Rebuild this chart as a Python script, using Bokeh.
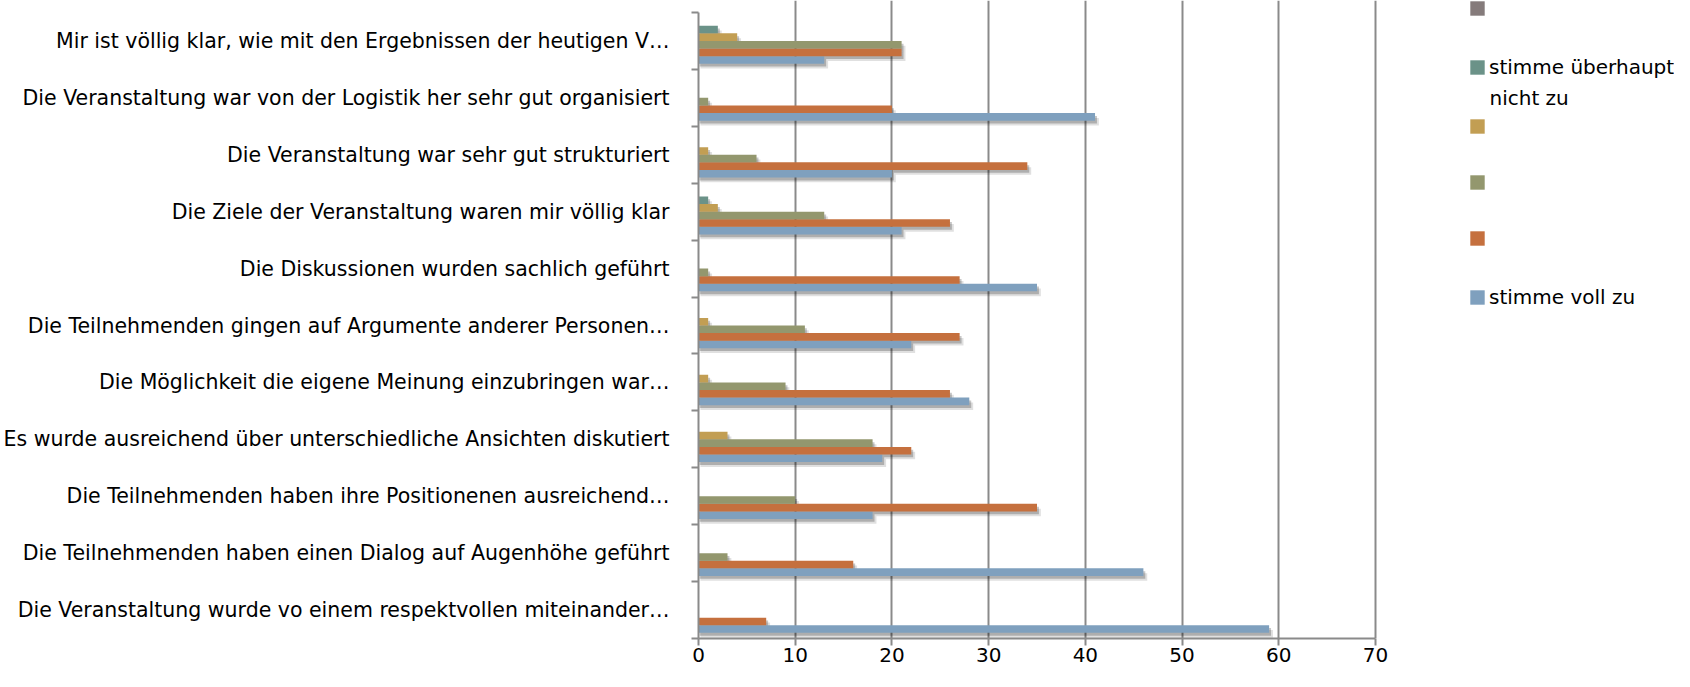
from bokeh.plotting import figure
from bokeh.models import Range1d, FixedTicker, Legend, LegendItem, ColumnDataSource, Label
from bokeh.embed import file_html
from bokeh.resources import INLINE

# ---- data (top to bottom as shown) ----
categories = [
    "Mir ist völlig klar, wie mit den Ergebnissen der heutigen V…",
    "Die Veranstaltung war von der Logistik her sehr gut organisiert",
    "Die Veranstaltung war sehr gut strukturiert",
    "Die Ziele der Veranstaltung waren mir völlig klar",
    "Die Diskussionen wurden sachlich geführt",
    "Die Teilnehmenden gingen auf Argumente anderer Personen…",
    "Die Möglichkeit die eigene Meinung einzubringen war…",
    "Es wurde ausreichend über unterschiedliche Ansichten diskutiert",
    "Die Teilnehmenden haben ihre Positionenen ausreichend…",
    "Die Teilnehmenden haben einen Dialog auf Augenhöhe geführt",
    "Die Veranstaltung wurde vo einem respektvollen miteinander…",
]
stimme_voll_zu = [13, 41, 20, 21, 35, 22, 28, 19, 18, 46, 59]
serie_2 = [21, 20, 34, 26, 27, 27, 26, 22, 35, 16, 7]
serie_3 = [21, 1, 6, 13, 1, 11, 9, 18, 10, 3, 0]
serie_4 = [4, 0, 1, 2, 0, 1, 1, 3, 0, 0, 0]
stimme_ueberhaupt_nicht_zu = [2, 0, 0, 1, 0, 0, 0, 0, 0, 0, 0]
serie_6 = [0, 0, 0, 0, 0, 0, 0, 0, 0, 0, 0]

series_values = [stimme_voll_zu, serie_2, serie_3, serie_4, stimme_ueberhaupt_nicht_zu, serie_6]
series_names = ["stimme voll zu", "", "", "", "stimme überhaupt nicht zu", ""]
series_colors = ["#7FA0BE", "#C5703E", "#93976E", "#C29E53", "#6B9288", "#857B7B"]
x_ticks = [0, 10, 20, 30, 40, 50, 60, 70]

FONT = "DejaVu Sans"
GRID = "#8A8A8A"

# layout constants (pixels)
W, H = 1674, 671
LEFT, BOTTOM, TOP_GAP = 698, 33, 12
PLOT_W = 677                       # width of the 0..70 scale
frame_w = W - LEFT
frame_h = H - BOTTOM

n = len(categories)
cat_y = [n - 1 - i + 0.5 for i in range(n)]
bh = 1.0 / (len(series_values) + 1.5)
mid = (len(series_values) - 1) / 2.0

x_end = x_ticks[-1] * frame_w / PLOT_W
y_end = n * (frame_h / (frame_h - TOP_GAP))

p = figure(width=W, height=H, x_range=Range1d(0, x_end), y_range=Range1d(0, y_end),
           output_backend="svg", toolbar_location=None,
           min_border_left=LEFT, min_border_right=0, min_border_top=0, min_border_bottom=BOTTOM)
p.outline_line_color = None
p.background_fill_color = "white"

# soft drop shadows first
for s, vals in enumerate(series_values):
    ys = [cy + (s - mid) * bh for cy in cat_y]
    keep = [i for i, v in enumerate(vals) if v > 0]
    for dx, dy, a in [(0.2, 0.05, 0.22), (0.4, 0.085, 0.12)]:
        src = ColumnDataSource(dict(y=[ys[i] - dy for i in keep],
                                    r=[vals[i] + dx for i in keep],
                                    l=[dx * 0.5 for i in keep]))
        p.hbar(y="y", left="l", right="r", height=bh, source=src,
               fill_color="black", fill_alpha=a, line_color=None)

renderers = []
for s, vals in enumerate(series_values):
    ys = [cy + (s - mid) * bh for cy in cat_y]
    src = ColumnDataSource(dict(y=ys, r=vals))
    r = p.hbar(y="y", left=0, right="r", height=bh, source=src,
               fill_color=series_colors[s], line_color=None)
    renderers.append(r)

# x axis
p.xaxis.ticker = FixedTicker(ticks=x_ticks)
p.xaxis.bounds = (x_ticks[0], x_ticks[-1])
p.xgrid.ticker = FixedTicker(ticks=x_ticks)
p.xgrid.bounds = (0, n)
p.xgrid.grid_line_color = GRID
p.xgrid.grid_line_width = 2
p.ygrid.grid_line_color = None
p.xaxis.axis_line_color = GRID
p.xaxis.axis_line_width = 2
p.xaxis.major_tick_line_color = GRID
p.xaxis.major_tick_line_width = 2
p.xaxis.major_tick_out = 7
p.xaxis.major_tick_in = 0
p.xaxis.minor_tick_line_color = None
p.xaxis.major_label_text_font = FONT
p.xaxis.major_label_text_font_size = "20px"
p.xaxis.major_label_text_color = "black"
p.xaxis.major_label_standoff = 2

# y axis
boundaries = list(range(n + 1))
p.yaxis.ticker = FixedTicker(ticks=cat_y, minor_ticks=boundaries)
p.yaxis.bounds = (0, n)
p.yaxis.major_label_overrides = {cy: categories[i] for i, cy in enumerate(cat_y)}
p.yaxis.axis_line_color = GRID
p.yaxis.axis_line_width = 2
p.yaxis.major_tick_out = 0
p.yaxis.major_tick_in = 0
p.yaxis.major_tick_line_color = None
p.yaxis.minor_tick_out = 7
p.yaxis.minor_tick_in = 0
p.yaxis.minor_tick_line_color = GRID
p.yaxis.minor_tick_line_width = 2
p.yaxis.major_label_text_font = FONT
p.yaxis.major_label_text_font_size = "20.5px"
p.yaxis.major_label_text_color = "black"
p.yaxis.major_label_standoff = 22

# legend (top entry = last series); long label wrapped onto a second line
def legend_text(name):
    if name == "stimme überhaupt nicht zu":
        return "stimme überhaupt"
    return name if name else " "

items = [LegendItem(label=legend_text(series_names[s]), renderers=[renderers[s]])
         for s in reversed(range(len(series_values)))]
legend = Legend(items=items, location=(770, 329), orientation="vertical",
                glyph_width=18, glyph_height=18, label_height=14, spacing=38,
                label_standoff=3, padding=0, margin=0, border_line_color=None,
                background_fill_alpha=0, label_text_font=FONT,
                label_text_font_size="20px", label_text_color="black")
p.add_layout(legend, "center")

wrap = Label(x=x_ticks[-1], y=n, x_offset=114, y_offset=-85, text="nicht zu",
             text_font=FONT, text_font_size="20px", text_color="black",
             text_baseline="middle", text_align="left")
p.add_layout(wrap)

open("out.html", "w").write(file_html(p, INLINE))
